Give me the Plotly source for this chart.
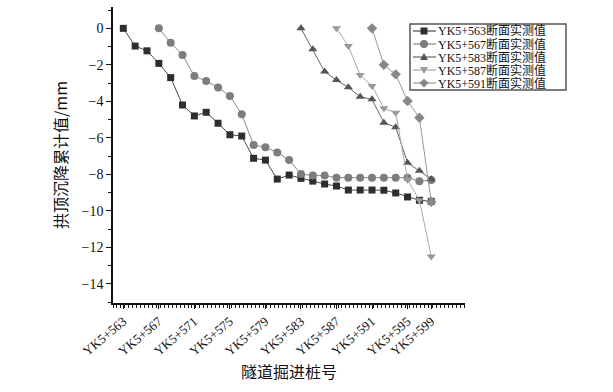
import plotly.graph_objects as go

# x positions are measurement sequence indices along the tunnel
tick_pos = [0, 3, 6, 9, 12, 15, 18, 21, 24, 26]
tick_text = ["YK5+563", "YK5+567", "YK5+571", "YK5+575", "YK5+579",
             "YK5+583", "YK5+587", "YK5+591", "YK5+595", "YK5+599"]

x563 = list(range(0, 27))
s563 = [0, -0.97, -1.23, -1.92, -2.7, -4.2, -4.8, -4.6, -5.2, -5.83, -5.9,
        -7.12, -7.22, -8.26, -8.04, -8.22, -8.37, -8.53, -8.64, -8.86, -8.86,
        -8.86, -8.87, -9.02, -9.24, -9.42, -9.48]

x567 = list(range(3, 27))
s567 = [0, -0.79, -1.46, -2.61, -2.89, -3.24, -3.71, -4.71, -6.39, -6.52,
        -6.8, -7.22, -7.98, -8.07, -8.07, -8.18, -8.18, -8.18, -8.18, -8.18,
        -8.18, -8.18, -8.38, -8.31]

x583 = list(range(15, 27))
s583 = [0, -1.15, -2.37, -2.83, -3.23, -3.75, -3.89, -5.17, -5.42, -7.36,
        -7.8, -8.27]

x587 = list(range(18, 27))
s587 = [0, -0.97, -2.56, -3.16, -4.38, -4.62, -8.3, -9.42, -12.5]

x591 = list(range(21, 27))
s591 = [0, -2.0, -2.52, -3.98, -4.9, -9.5]

names = ["YK5+563断面实测值", "YK5+567断面实测值", "YK5+583断面实测值",
         "YK5+587断面实测值", "YK5+591断面实测值"]

SERIF = "Liberation Serif, Noto Sans CJK SC, serif"

styles = [
    dict(symbol="square", size=7, mc="#2e2e2e", lc="#4a4a4a"),
    dict(symbol="circle", size=8, mc="#7d7d7d", lc="#8a8a8a"),
    dict(symbol="triangle-up", size=8, mc="#555555", lc="#666666"),
    dict(symbol="triangle-down", size=8, mc="#9a9a9a", lc="#a8a8a8"),
    dict(symbol="diamond", size=8, mc="#888888", lc="#999999"),
]

# plot-area geometry (pixels)
W, H = 613, 392
L, R, T, B = 113, 465, 7, 303


def px_x(p):
    return (p - L) / (R - L)


def px_y(p):
    return (B - p) / (B - T)


fig = go.Figure()
for xs, ys, nm, st in zip([x563, x567, x583, x587, x591],
                          [s563, s567, s583, s587, s591], names, styles):
    fig.add_trace(go.Scatter(
        x=xs, y=ys, name=nm, mode="lines+markers",
        line=dict(color=st["lc"], width=1),
        marker=dict(symbol=st["symbol"], size=st["size"], color=st["mc"],
                    line=dict(width=0)),
        showlegend=False,
    ))

# custom compact legend (box, sample lines, glyphs, labels)
row_y = [31, 44, 57, 70, 83]
shapes = [dict(type="rect", xref="paper", yref="paper",
               x0=px_x(410), x1=px_x(566), y0=px_y(90), y1=px_y(24),
               line=dict(color="#555", width=1.5), fillcolor="white", layer="above")]
annotations = []
glyph_paths = {
    "triangle-up": "M-4,-3 L4,-3 L0,4 Z",
    "triangle-down": "M-4,3 L4,3 L0,-4 Z",
    "diamond": "M0,4.5 L4.5,0 L0,-4.5 L-4.5,0 Z",
}
for i, (nm, st) in enumerate(zip(names, styles)):
    yc = px_y(row_y[i])
    shapes.append(dict(type="line", xref="paper", yref="paper",
                       x0=px_x(413), x1=px_x(436), y0=yc, y1=yc,
                       line=dict(color=st["lc"], width=1.2), layer="above"))
    base = dict(xref="paper", yref="paper", xsizemode="pixel", ysizemode="pixel",
                xanchor=px_x(424), yanchor=yc, fillcolor=st["mc"],
                line=dict(width=0), layer="above")
    if st["symbol"] == "square":
        shapes.append(dict(type="rect", x0=-3.5, x1=3.5, y0=-3.5, y1=3.5, **base))
    elif st["symbol"] == "circle":
        shapes.append(dict(type="circle", x0=-4, x1=4, y0=-4, y1=4, **base))
    else:
        shapes.append(dict(type="path", path=glyph_paths[st["symbol"]], **base))
    annotations.append(dict(
        xref="paper", yref="paper", x=px_x(436), y=yc, xanchor="left",
        yanchor="middle", text=nm, showarrow=False,
        font=dict(family=SERIF, size=12, color="#111"),
    ))

fig.update_layout(
    width=W, height=H,
    margin=dict(l=L, r=W - R, t=T, b=H - B),
    paper_bgcolor="white", plot_bgcolor="white",
    font=dict(family=SERIF, size=13, color="#111"),
    showlegend=False,
    shapes=shapes, annotations=annotations,
    xaxis=dict(
        range=[-0.87, 28.85], showgrid=False, zeroline=False,
        showline=True, linecolor="#111", linewidth=1.5,
        tickmode="array", tickvals=tick_pos, ticktext=tick_text,
        tickangle=-40, ticks="outside", ticklen=4, tickcolor="#111",
        tickfont=dict(family=SERIF, size=13),
        minor=dict(dtick=1/3, tick0=-0.87, ticks="outside", ticklen=3,
                   tickcolor="#111"),
        title=dict(text="隧道掘进桩号", font=dict(family="Noto Sans CJK SC", size=16),
                   standoff=4),
    ),
    yaxis=dict(
        range=[-15.05, 1.17], showgrid=False, zeroline=False,
        showline=True, linecolor="#111", linewidth=1.5,
        tickmode="linear", tick0=0, dtick=2, ticks="outside", ticklen=5,
        tickcolor="#111", tickfont=dict(family=SERIF, size=14),
        minor=dict(dtick=1, tick0=0, ticks="outside", ticklen=3,
                   tickcolor="#111"),
        title=dict(text="拱顶沉降累计值/mm",
                   font=dict(family="Noto Sans CJK SC", size=16), standoff=10),
    ),
)

fig.write_html("out.html", config={"displayModeBar": False},
               post_script="document.body.style.margin='0';")
